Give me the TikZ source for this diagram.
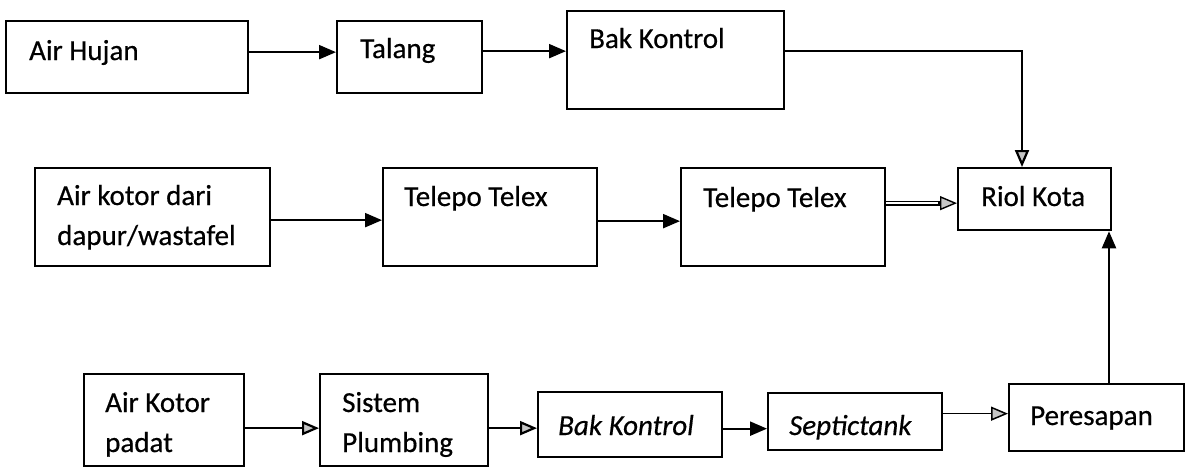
\documentclass[tikz,border=0pt]{standalone}
\usepackage{fontspec}
\setmainfont{Carlito}[FakeBold=0.5]
\usetikzlibrary{arrows.meta,calc}
\begin{document}
\begin{tikzpicture}[x=1pt,y=-1pt,
  box/.style={draw, line width=2.3pt, rectangle, inner sep=0pt, anchor=north west},
  lbl/.style={anchor=base west, inner sep=0pt, font=\fontsize{29}{36}\selectfont},
  link/.style={line width=2.2pt},
  arr/.style={link, -{Triangle[length=17pt,width=14pt]}},
  oarr/.style={link, -{Triangle[length=17pt,width=14pt,fill=gray!45]}},
]
\useasboundingbox[fill=white] (0,0) rectangle (1191,471);

% top row
\node[box, minimum width=242pt, minimum height=72pt] (hujan) at (5,20) {};
\node[box, minimum width=145pt, minimum height=72pt] (talang) at (336,20) {};
\node[box, minimum width=217pt, minimum height=98pt] (bak1) at (566,10) {};
\node[lbl] (hujan-t) at (29,60) {Air Hujan};
\node[lbl] (talang-t) at (360,58) {Talang};
\node[lbl] (bak1-t) at (589,48) {Bak Kontrol};

% middle row
\node[box, minimum width=235pt, minimum height=98pt] (dapur) at (34,167) {};
\node[box, minimum width=214pt, minimum height=98pt] (tel1) at (382,167) {};
\node[box, minimum width=204pt, minimum height=98pt] (tel2) at (680,167) {};
\node[box, minimum width=153pt, minimum height=62pt] (riol) at (957,167) {};
\node[lbl] (dapur-t1) at (57,205) {Air kotor dari};
\node[lbl] (dapur-t2) at (57,245) {dapur/wastafel};
\node[lbl] (tel1-t) at (404,206) {Telepo Telex};
\node[lbl] (tel2-t) at (703,207) {Telepo Telex};
\node[lbl] (riol-t) at (981,206) {Riol Kota};

% bottom row
\node[box, minimum width=160pt, minimum height=92pt] (padat) at (83,373) {};
\node[box, minimum width=168pt, minimum height=92pt] (plumb) at (319,373) {};
\node[box, minimum width=184pt, minimum height=65pt] (bak2) at (537,391) {};
\node[box, minimum width=174pt, minimum height=57pt] (septic) at (767,392) {};
\node[box, minimum width=175pt, minimum height=67pt] (resap) at (1008,383) {};
\node[lbl] (padat-t1) at (105,412) {Air Kotor};
\node[lbl] (padat-t2) at (105,452) {padat};
\node[lbl] (plumb-t1) at (342,412) {Sistem};
\node[lbl] (plumb-t2) at (342,452) {Plumbing};
\node[lbl, font=\fontsize{29}{36}\selectfont\itshape] (bak2-t) at (558,435) {Bak Kontrol};
\node[lbl, font=\fontsize{29}{36}\selectfont\itshape] (septic-t) at (789,435) {Septictank};
\node[lbl] (resap-t) at (1030,425) {Peresapan};

% connectors, top row
\draw[arr] ([yshift=5pt]hujan.east) -- ([yshift=5pt]talang.west);
\draw[arr] ([yshift=6pt]talang.east) -- ([yshift=6pt]talang.east -| bak1.west);
\draw[oarr] ([yshift=6pt]talang.east -| bak1.east) -| ([xshift=65pt]riol.north west);

% connectors, middle row
\draw[arr] ([yshift=-3pt]dapur.east) -- ([yshift=-3pt]dapur.east -| tel1.west);
\draw[arr] ([yshift=-4pt]tel1.east) -- ([yshift=-4pt]tel1.east -| tel2.west);
\draw[line width=1.2pt, double, double distance=2.4pt, shorten >=15pt]
  ([yshift=14pt]tel2.east) -- ([yshift=14pt]tel2.east -| riol.west);
\draw[oarr, line width=1.4pt] ([yshift=14pt, xshift=-19pt]tel2.east -| riol.west)
  -- ([yshift=14pt]tel2.east -| riol.west);

% connectors, bottom row
\draw[oarr] ([yshift=-8pt]padat.east) -- ([yshift=-8pt]padat.east -| plumb.west);
\draw[oarr] ([yshift=-8pt]plumb.east) -- ([yshift=-8pt]plumb.east -| bak2.west);
\draw[arr] ([yshift=-4pt]bak2.east) -- ([yshift=-4pt]bak2.east -| septic.west);
\draw[oarr, line width=1.5pt] ([yshift=8pt]septic.east) -- ([yshift=8pt]septic.east -| resap.west);
\draw[arr] ([xshift=101pt]resap.north west) -- ([xshift=101pt]resap.north west |- riol.south);
\end{tikzpicture}
\end{document}
